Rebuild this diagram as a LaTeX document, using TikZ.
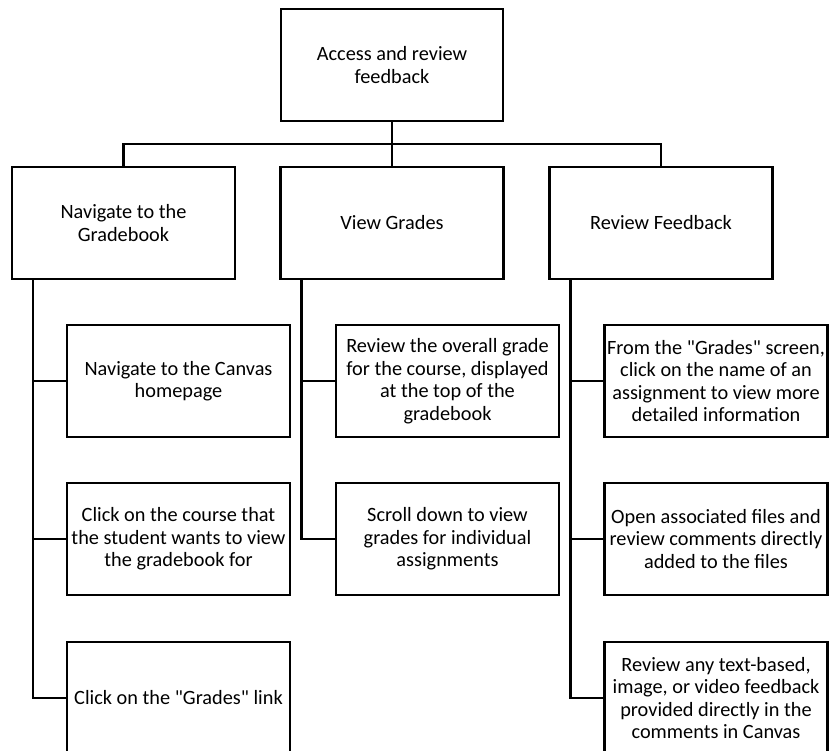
\documentclass[tikz,border=0pt]{standalone}
\usepackage{fontspec}
\setmainfont{Carlito}[Ligatures=TeXOff]
\begin{document}
\begin{tikzpicture}[x=1pt,y=-1pt,
  box/.style={draw=black, line width=2.2pt, rectangle, minimum width=223pt, minimum height=112pt,
    inner sep=0.5pt, align=center, font=\fontsize{20.3}{22.6}\selectfont},
  conn/.style={draw=black, line width=2.2pt}]
\useasboundingbox (0,0) rectangle (829,751);
% root
\node[box, minimum width=222pt] (root) at (392,65) {Access and review\\feedback};
% level 2
\node[box] (nav) at (123.5,223) {Navigate to the\\Gradebook};
\node[box] (view) at (392,223) {View Grades};
\node[box] (rev) at (661,223) {Review Feedback};
% children
\node[box] (n1) at (178.5,381) {Navigate to the Canvas\\homepage};
\node[box] (n2) at (178.5,539) {Click on the course that\\the student wants to view\\the gradebook for};
\node[box] (n3) at (178.5,698) {Click on the "Grades" link};
\node[box] (v1) at (447.5,381) {Review the overall grade\\for the course, displayed\\at the top of the\\gradebook};
\node[box] (v2) at (447.5,539) {Scroll down to view\\grades for individual\\assignments};
\node[box] (r1) at (716,381) {From the "Grades" screen,\\click on the name of an\\assignment to view more\\detailed information};
\node[box] (r2) at (716,539) {Open associated files and\\review comments directly\\added to the files};
\node[box] (r3) at (716,698) {Review any text-based,\\image, or video feedback\\provided directly in the\\comments in Canvas};
% bus
\coordinate (bus) at (392,144);
\draw[conn] (root.south) -- (bus);
\draw[conn] (nav.north) |- (bus) -| (rev.north);
\draw[conn] (bus) -- (view.north);
% child spines
\coordinate (sa) at ([xshift=22pt]nav.south west);
\coordinate (sb) at ([xshift=22pt]view.south west);
\coordinate (sc) at ([xshift=22pt]rev.south west);
\draw[conn] (sa) |- (n1.west);
\draw[conn] (sa) |- (n2.west);
\draw[conn] (sa) |- (n3.west);
\draw[conn] (sb) |- (v1.west);
\draw[conn] (sb) |- (v2.west);
\draw[conn] (sc) |- (r1.west);
\draw[conn] (sc) |- (r2.west);
\draw[conn] (sc) |- (r3.west);
\end{tikzpicture}
\end{document}
